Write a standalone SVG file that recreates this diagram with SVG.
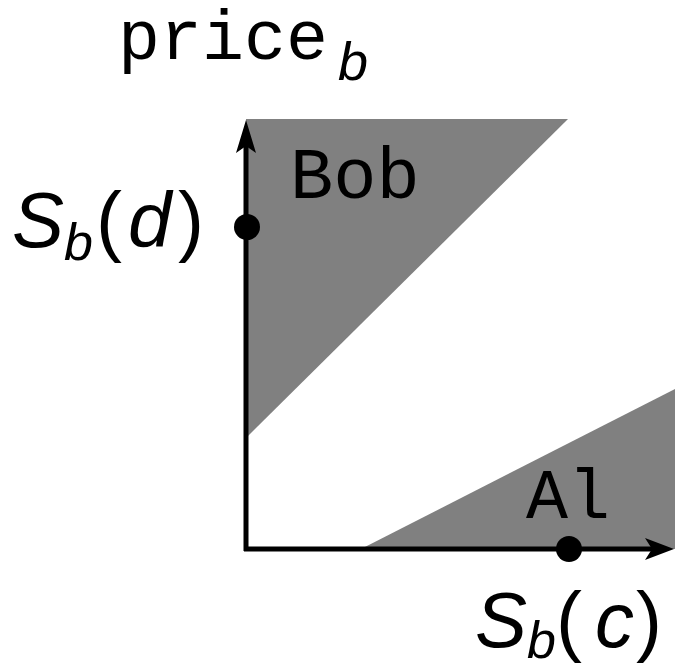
<svg xmlns="http://www.w3.org/2000/svg" width="675" height="671" viewBox="0 0 675 671">
<style>
.region{fill:#808080;stroke:none}
.axis{stroke:#000;stroke-width:5;fill:none}
.head{fill:#000;stroke:none}
.dot{fill:#000}
.mono{font-family:"Liberation Mono","Courier New",monospace;fill:#000}
.math{font-family:"Liberation Sans","DejaVu Sans",sans-serif;fill:#000}
.it{font-style:italic}
</style>
<rect width="675" height="671" fill="#fff"/>
<g id="regions">
<polygon id="bob-region" class="region" points="246,119 568,119 246,438"/>
<polygon id="al-region" class="region" points="361,549 675,389 675,549"/>
</g>
<g id="axes">
<path class="axis" d="M246,551 V140"/>
<path class="axis" d="M244,549 H655"/>
<path class="head" d="M246,120 L256,153 L246,146 L236,153 Z"/>
<path class="head" d="M674,549 L645,560 L652,549 L645,538 Z"/>
</g>
<g id="points">
<circle class="dot" cx="247" cy="227" r="13"/>
<circle class="dot" cx="569" cy="549" r="13"/>
</g>
<g id="labels">
<text class="mono" x="118" y="59" font-size="70">price<tspan class="math it" x="338" y="80" font-size="54">b</tspan></text>
<text class="mono" x="290" y="198" font-size="72">Bob</text>
<text class="mono" x="526" y="518" font-size="70">Al</text>
<text class="math" y="247" font-size="78"><tspan class="it" x="12">S</tspan><tspan class="it" x="64" y="260" font-size="52">b</tspan><tspan x="96" y="247">(</tspan><tspan class="it" x="128">d</tspan><tspan x="178">)</tspan></text>
<text class="math" y="647" font-size="78"><tspan class="it" x="475">S</tspan><tspan class="it" x="527" y="658" font-size="52">b</tspan><tspan x="556" y="647">(</tspan><tspan class="it" x="595">c</tspan><tspan x="636">)</tspan></text>
</g>
</svg>
